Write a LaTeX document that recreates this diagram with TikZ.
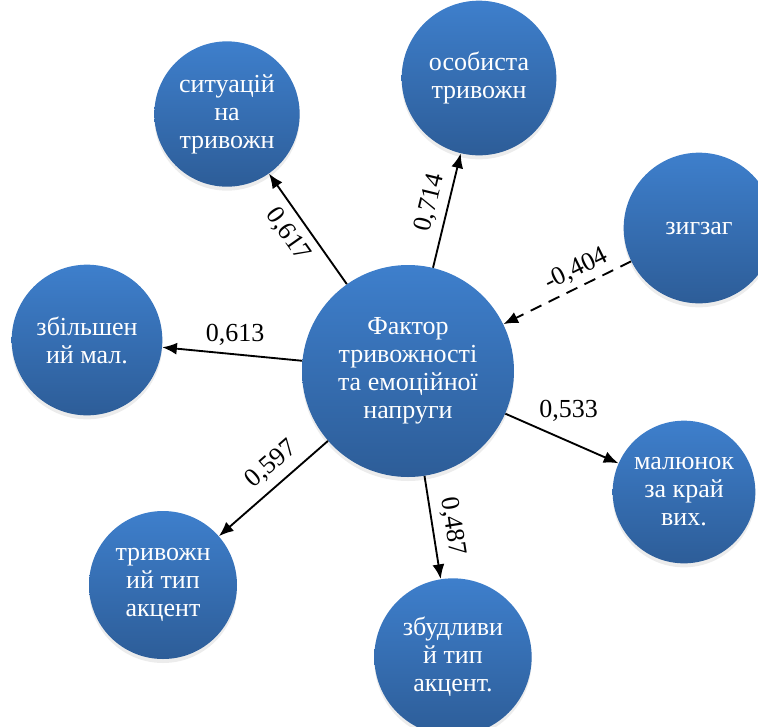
\documentclass[tikz,border=0pt]{standalone}
\usepackage{fontspec}
\setmainfont{Liberation Serif}
\newfontfamily\ukrserif{Liberation Serif}
\usepackage{tikz}
\usetikzlibrary{arrows.meta,shadows}
\definecolor{topblue}{RGB}{62,127,204}
\definecolor{botblue}{RGB}{45,93,152}

\begin{document}
\begin{tikzpicture}[x=0.75pt,y=-0.75pt,
    factor/.style={circle,top color=topblue,bottom color=botblue,text=white,align=center,
      inner sep=0pt,font=\ukrserif\fontsize{19.5}{21}\selectfont,
      drop shadow={opacity=0.15,shadow xshift=0pt,shadow yshift=-3pt}},
    link/.style={line width=1.4pt,-{Latex[length=11pt,width=9pt]}},
    coef/.style={font=\ukrserif\fontsize{19.5}{21}\selectfont,inner sep=2pt}]
        \clip (0,0) rectangle (758,726);
        \node[factor,minimum size=159pt] (fac) at (408,371) {Фактор\\тривожності\\та емоційної\\напруги};
        \node[factor,minimum size=109pt] (sit) at (227,114) {ситуацій\\на\\тривожн};
        \node[factor,minimum size=116pt] (osob) at (479,78) {особиста\\тривожн};
        \node[factor,minimum size=113pt] (zig) at (699,228) {зигзаг};
        \node[factor,minimum size=113pt] (zbil) at (87,340) {збільшен\\ий мал.};
        \node[factor,minimum size=107pt] (mal) at (684,492) {малюнок\\за край\\вих.};
        \node[factor,minimum size=111pt] (triv) at (163,585) {тривожн\\ий тип\\акцент};
        \node[factor,minimum size=118pt] (zbud) at (453,657) {збудливи\\й тип\\акцент.};
        \draw[link] (fac) -- (sit) node[coef,pos=0.55,sloped,below=4pt] {0,617};
        \draw[link] (fac) -- (osob) node[coef,pos=0.53,sloped,above=3pt] {0,714};
        \draw[link,dash pattern=on 9pt off 6pt] (zig) -- (fac) node[coef,pos=0.37,sloped,above=2pt] {-0,404};
        \draw[link] (fac) -- (zbil) node[coef,pos=0.48,above=4pt] {0,613};
        \draw[link] (fac) -- (mal) node[coef,pos=0.56,above=12pt] {0,533};
        \draw[link] (fac) -- (triv) node[coef,pos=0.4,sloped,above=4pt] {0,597};
        \draw[link] (fac) -- (zbud) node[coef,pos=0.52,sloped,above=4pt] {0,487};
      \end{tikzpicture}
\end{document}
